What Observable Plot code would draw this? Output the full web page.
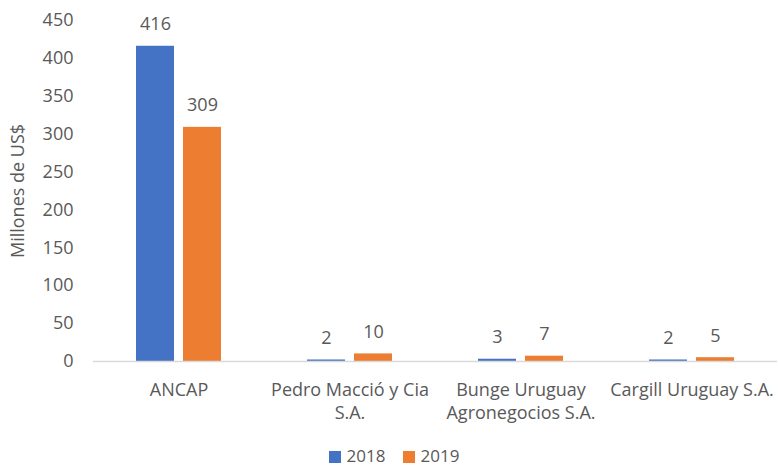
<!DOCTYPE html>
<html>
<head>
<meta charset="utf-8">
<script src="https://cdn.jsdelivr.net/npm/d3@7"></script>
<script src="https://cdn.jsdelivr.net/npm/@observablehq/plot@0.6"></script>
<style>
  html, body { margin: 0; padding: 0; background: #fff; }
  #chart { width: 778px; }
  .legend { display: flex; justify-content: center; align-items: center; gap: 17px; height: 24px; line-height: 24px;
            font-family: "Open Sans", sans-serif; font-size: 17px; color: #595959; padding-left: 10px; margin-top: 8px; }
  .legend span.sw { display: inline-block; width: 12px; height: 12px; margin-right: 6px; vertical-align: -1px; }
</style>
</head>
<body>
<div id="chart"></div>
<script>
const categories = ["ANCAP", "Pedro Macció y Cia S.A.", "Bunge Uruguay Agronegocios S.A.", "Cargill Uruguay S.A."];
const categoryLabels = ["ANCAP", "Pedro Macció y Cia\nS.A.", "Bunge Uruguay\nAgronegocios S.A.", "Cargill Uruguay S.A."];
const series = ["2018", "2019"];
const values2018 = [416, 2, 3, 2];
const values2019 = [309, 10, 7, 5];
const colors = ["#4472C4", "#ED7D31"];
const yTicks = [0, 50, 100, 150, 200, 250, 300, 350, 400, 450];

const data = [];
categories.forEach((c, i) => {
  data.push({category: c, year: "2018", value: values2018[i]});
  data.push({category: c, year: "2019", value: values2019[i]});
});
const labelOf = new Map(categories.map((c, i) => [c, categoryLabels[i]]));

const textColor = "#595959";
const plot = Plot.plot({
  width: 778,
  height: 436,
  marginTop: 20,
  marginBottom: 75,
  marginLeft: 92,
  marginRight: 0,
  style: {fontFamily: "Open Sans, sans-serif", fontSize: "18px", color: textColor, background: "#fff"},
  fx: {domain: categories, padding: 0, label: null},
  x: {domain: series, paddingInner: 0.2, paddingOuter: 0.9, axis: null},
  y: {domain: [0, 450]},
  color: {domain: series, range: colors},
  marks: [
    Plot.axisY({ticks: yTicks, tickSize: 0, tickPadding: 20, fontSize: 18, fill: textColor,
                label: "Millones de US$", labelAnchor: "center", labelArrow: "none", labelOffset: 82}),
    Plot.axisFx({anchor: "bottom", tickSize: 0, tickPadding: 17, fontSize: 18, fill: textColor,
                 lineHeight: 1.33, tickFormat: d => labelOf.get(d), label: null}),
    Plot.barY(data, {fx: "category", x: "year", y: "value", fill: "year"}),
    Plot.ruleY([0], {stroke: "#d9d9d9", strokeWidth: 1.5}),
    Plot.text(data, {fx: "category", x: "year", y: "value", text: d => String(d.value),
                     lineAnchor: "bottom", dy: -16, fontSize: 18, fill: textColor})
  ]
});
document.getElementById("chart").appendChild(plot);

const legend = document.createElement("div");
legend.className = "legend";
series.forEach((s, i) => {
  const item = document.createElement("div");
  const sw = document.createElement("span");
  sw.className = "sw";
  sw.style.background = colors[i];
  item.appendChild(sw);
  item.appendChild(document.createTextNode(s));
  legend.appendChild(item);
});
document.getElementById("chart").appendChild(legend);
</script>
</body>
</html>
